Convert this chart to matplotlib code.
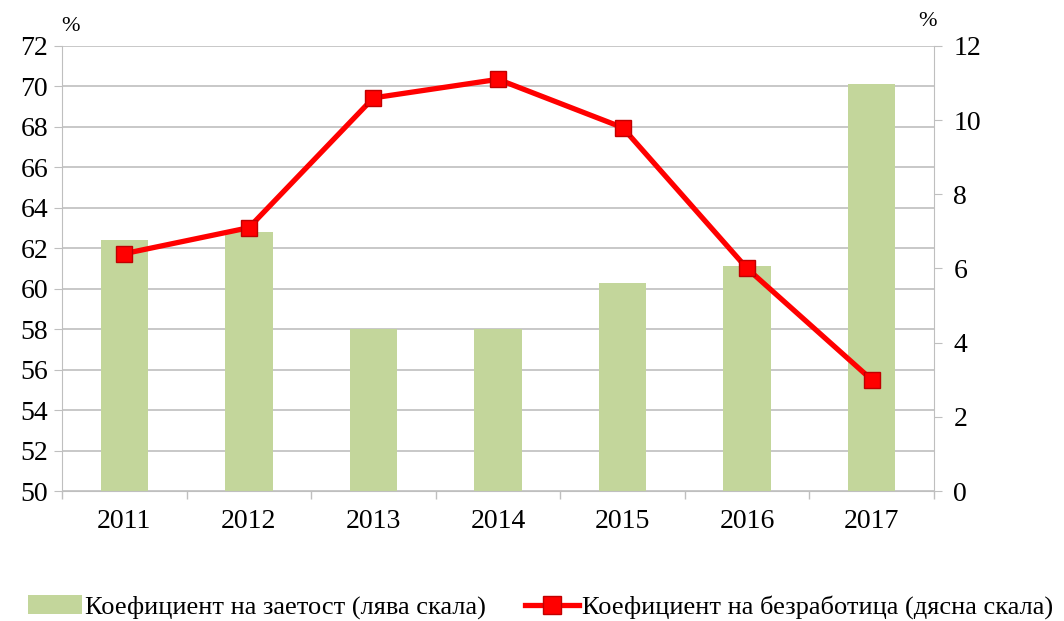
import matplotlib
matplotlib.use("Agg")
import matplotlib.pyplot as plt
import numpy as np
from matplotlib.lines import Line2D
from matplotlib.patches import Patch

plt.rcParams['font.family'] = ['Liberation Serif', 'DejaVu Serif']

years = ['2011', '2012', '2013', '2014', '2015', '2016', '2017']
employment = [62.4, 62.8, 58.0, 58.0, 60.3, 61.1, 70.1]
unemployment = [6.4, 7.1, 10.6, 11.1, 9.8, 6.0, 3.0]

bar_color = '#c3d69b'
line_color = '#ff0000'
grid_color = '#bfbfbf'

fig = plt.figure(figsize=(10.64, 6.21), dpi=100)
ax = fig.add_axes([0.0583, 0.2093, 0.8195, 0.7167])
x = np.arange(len(years))
ax.bar(x, employment, width=0.38, color=bar_color, zorder=2, bottom=0)
ax.set_ylim(50, 72)
ax.set_yticks(np.arange(50, 73, 2))
ax.set_xlim(-0.5, len(years) - 0.5)
ax.set_xticks(x)
ax.set_xticklabels(years)
ax.set_xticks(np.arange(-0.5, len(years), 1), minor=True)
ax.tick_params(axis='x', which='major', length=0, labelsize=20, pad=13)
ax.tick_params(axis='x', which='minor', length=6, color=grid_color, width=1)
ax.tick_params(axis='y', length=6, color=grid_color, labelsize=20, pad=4)
ax.grid(axis='y', color=grid_color, linewidth=1.2, zorder=0)
for s in ['top', 'right']:
    ax.spines[s].set_visible(False)
ax.spines['left'].set_color(grid_color)
ax.spines['bottom'].set_color(grid_color)

ax2 = ax.twinx()
ax2.plot(x, unemployment, color=line_color, linewidth=3.8, marker='s', markersize=12,
         markerfacecolor=line_color, markeredgecolor='#c00000', markeredgewidth=1, zorder=5)
ax2.set_ylim(0, 12)
ax2.set_yticks(np.arange(0, 13, 2))
ax2.tick_params(axis='y', length=6, color=grid_color, labelsize=20, pad=8)
for s in ['top', 'left', 'bottom']:
    ax2.spines[s].set_visible(False)
ax2.spines['right'].set_color(grid_color)

fig.text(0.0658, 0.957, '%', fontsize=16, ha='center', va='center')
fig.text(0.872, 0.965, '%', fontsize=16, ha='center', va='center')

handles = [Patch(facecolor=bar_color, edgecolor='none'),
           Line2D([0], [0], color=line_color, linewidth=3.8, marker='s', markersize=13,
                  markerfacecolor=line_color, markeredgecolor='#c00000')]
labels = ['Коефициент на заетост (лява скала)', 'Коефициент на безработица (дясна скала)']
fig.legend(handles, labels, loc='center', bbox_to_anchor=(0.508, 0.022), ncol=2, frameon=False,
           fontsize=19, handlelength=2.05, handletextpad=0.1, columnspacing=1.5)

fig.savefig('out.png', dpi=100)
